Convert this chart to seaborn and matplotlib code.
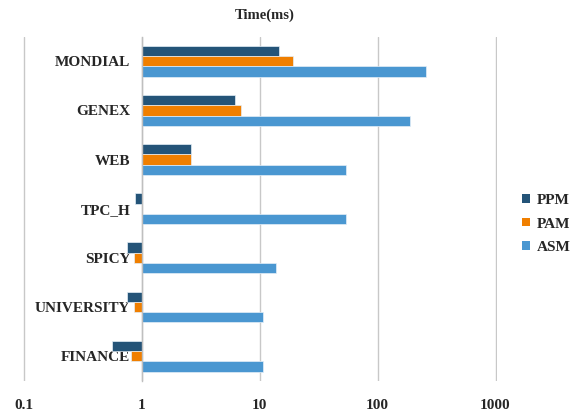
import numpy as np
import pandas as pd
import matplotlib
matplotlib.use("Agg")
import matplotlib.pyplot as plt
import seaborn as sns
from matplotlib.patches import Patch

categories = ["MONDIAL", "GENEX", "WEB", "TPC_H", "SPICY", "UNIVERSITY", "FINANCE"]
series = ["PPM", "PAM", "ASM"]
ppm = [14.5, 6.2, 2.65, 0.88, 0.76, 0.76, 0.565]
pam = [19.4, 7.0, 2.65, np.nan, 0.87, 0.86, 0.81]
asm = [259, 188, 53.6, 53.6, 13.7, 10.7, 10.7]
xticks = [0.1, 1, 10, 100, 1000]
xticklabels = ["0.1", "1", "10", "100", "1000"]
colors = ["#245478", "#F07F00", "#4A97D1"]

rows = []
for name, vals in zip(series, [ppm, pam, asm]):
    for c, v in zip(categories, vals):
        rows.append({"Dataset": c, "Method": name, "Time": v})
df = pd.DataFrame(rows).dropna()

sns.set_style("white")
plt.rcParams["font.family"] = ["Liberation Serif", "DejaVu Serif"]
plt.rcParams["font.weight"] = "bold"

W, H = 577, 415
fig = plt.figure(figsize=(W / 100, H / 100), dpi=100)
xmin, xmax = 0.098, 1020
decade = 118.0
x1px = 141.5
left_px = x1px + decade * np.log10(xmin)
right_px = x1px + decade * np.log10(xmax)
top_px, bot_px = 36.7, 380.7
ax = fig.add_axes([left_px / W, 1 - bot_px / H, (right_px - left_px) / W, (bot_px - top_px) / H])

sns.barplot(data=df, y="Dataset", x="Time", hue="Method", order=categories,
            hue_order=series, palette=colors, orient="h", width=0.63,
            ax=ax, legend=False, saturation=1, edgecolor="#E4EEF7", linewidth=0.5)

# bars grow from 1 (log axis crossing)
for p in ax.patches:
    w = p.get_width()
    if np.isnan(w):
        continue
    p.set_x(1.0)
    p.set_width(w - 1.0)

ax.set_xscale("log")
ax.set_xlim(xmin, xmax)
ax.set_ylim(len(categories) - 0.5, -0.5)

ax.set_xticks(xticks)
ax.set_xticklabels(xticklabels, fontsize=11, fontweight="bold")
ax.xaxis.set_minor_locator(matplotlib.ticker.NullLocator())
ax.tick_params(axis="x", length=0, pad=13)
ax.grid(axis="x", color="#C8C8C8", linewidth=1)
ax.set_axisbelow(True)

for s in ["top", "right", "bottom"]:
    ax.spines[s].set_visible(False)
ax.spines["left"].set_position(("data", 1))
ax.spines["left"].set_color("#BFBFBF")
ax.spines["left"].set_linewidth(1)

ax.set_yticks(np.arange(-0.5, len(categories), 1.0))
ax.set_yticklabels([])
ax.tick_params(axis="y", which="major", length=3, color="#BFBFBF", direction="out")
ax.set_yticks(np.arange(len(categories)), minor=True)
ax.set_yticklabels(categories, minor=True, fontsize=11, fontweight="bold")
ax.tick_params(axis="y", which="minor", length=0, pad=8)
ax.set_xlabel("")
ax.set_ylabel("")

fig.text(265 / W, 1 - 15 / H, "Time(ms)", ha="center", va="center",
         fontsize=10.5, fontweight="bold")

handles = [Patch(facecolor=c, edgecolor="none") for c in colors]
fig.legend(handles, series, loc="center left", bbox_to_anchor=(522 / W, 1 - 224 / H),
           frameon=False, prop={"size": 11, "weight": "bold"},
           handlelength=0.5, handleheight=0.5, handletextpad=0.45,
           labelspacing=0.7, borderpad=0, borderaxespad=0)

fig.savefig("out.png", dpi=100)
